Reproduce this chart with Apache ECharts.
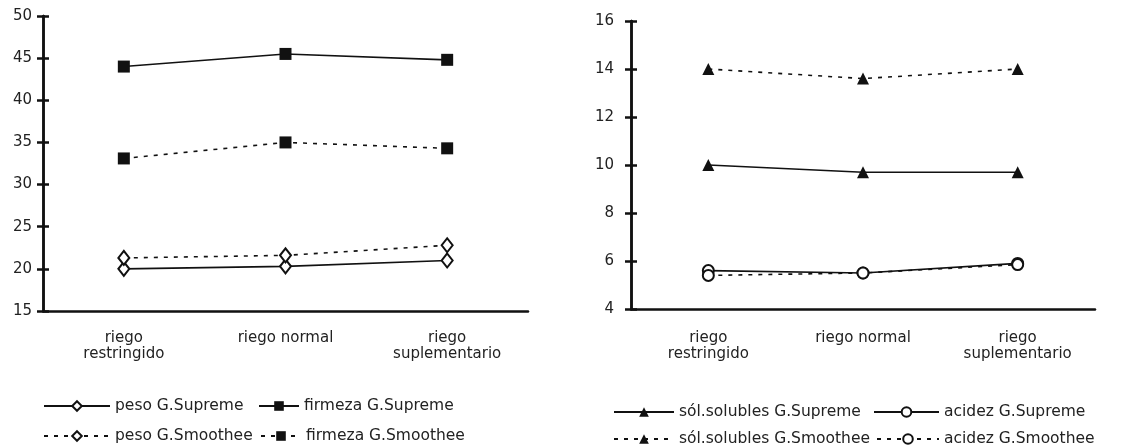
<!DOCTYPE html>
<html>
<head>
<meta charset="utf-8">
<script src="https://cdn.jsdelivr.net/npm/echarts@6/dist/echarts.min.js"></script>
<style>
html,body{margin:0;padding:0;background:#fff;}
#chart{width:1128px;height:447px;}
</style>
</head>
<body>
<div id="chart"></div>
<script>
// ---- data ----
var categories = ['riego\nrestringido', 'riego normal', 'riego\nsuplementario'];
var pesoSupreme = [20.0, 20.3, 21.0];
var pesoSmoothee = [21.3, 21.6, 22.8];
var firmezaSupreme = [44.0, 45.5, 44.8];
var firmezaSmoothee = [33.1, 35.0, 34.3];
var solSupreme = [10.0, 9.7, 9.7];
var solSmoothee = [14.0, 13.6, 14.0];
var acidezSupreme = [5.6, 5.5, 5.9];
var acidezSmoothee = [5.4, 5.5, 5.85];
var leftAxis = {min: 15, max: 50, interval: 5};
var rightAxis = {min: 4, max: 16, interval: 2};
var names = {
  pesoSup: 'peso G.Supreme', pesoSmo: 'peso G.Smoothee',
  firSup: 'firmeza G.Supreme', firSmo: 'firmeza G.Smoothee',
  solSup: 'sól.solubles G.Supreme', solSmo: 'sól.solubles G.Smoothee',
  aciSup: 'acidez G.Supreme', aciSmo: 'acidez G.Smoothee'
};

// ---- styles ----
var INK = '#111';
var FONT = 'DejaVu Sans';
var solid = {color: INK, width: 1.6, type: 'solid'};
var dotted = {color: INK, width: 1.6, type: [4, 6]};
var filled = {color: INK};
var hollow = {color: '#fff', borderColor: INK, borderWidth: 2};

function yAxes(gridIndex, ax, labelMargin) {
  var base = {
    type: 'value', gridIndex: gridIndex, position: 'left', offset: 0,
    min: ax.min, max: ax.max, interval: ax.interval,
    splitLine: {show: false},
    axisLine: {show: true, lineStyle: {color: INK, width: 2.5}}
  };
  var a = Object.assign({}, base, {
    axisTick: {show: true, inside: false, length: 6, lineStyle: {color: INK, width: 2.5}},
    axisLabel: {show: true, color: '#222', fontFamily: FONT, fontSize: 15, margin: labelMargin}
  });
  var b = Object.assign({}, base, {
    axisTick: {show: true, inside: true, length: 6, lineStyle: {color: INK, width: 2.5}},
    axisLabel: {show: false}
  });
  return [a, b];
}
function xAxis(gridIndex, margin) {
  return {
    type: 'category', gridIndex: gridIndex, data: categories, boundaryGap: true,
    axisLine: {show: true, lineStyle: {color: INK, width: 2.5}},
    axisTick: {show: false},
    axisLabel: {interval: 0, color: '#222', fontFamily: FONT, fontSize: 15, lineHeight: 16, margin: margin},
    splitLine: {show: false}
  };
}
function series(name, data, xi, yi, line, symbol, size, item) {
  return {
    name: name, type: 'line', data: data, xAxisIndex: xi, yAxisIndex: yi,
    symbol: symbol, symbolSize: size, showAllSymbol: true,
    lineStyle: line, itemStyle: item, z: 3
  };
}
function legend(name, left, top, w) {
  return {
    data: [name], left: left, top: top, itemWidth: w, itemHeight: 12, padding: 0,
    selectedMode: false,
    textStyle: {color: '#222', fontFamily: FONT, fontSize: 15.5}
  };
}

var chart = echarts.init(document.getElementById('chart'), null, {renderer: 'canvas'});
chart.setOption({
  animation: false,
  backgroundColor: '#fff',
  grid: [
    {left: 43, right: 600, top: 16, bottom: 136},
    {left: 631, right: 33, top: 21, bottom: 138}
  ],
  xAxis: [xAxis(0, 19), xAxis(1, 21)],
  yAxis: yAxes(0, leftAxis, 11).concat(yAxes(1, rightAxis, 17)),
  legend: [
    legend(names.pesoSup, 43, 398, 66),
    legend(names.firSup, 258, 398, 40),
    legend(names.pesoSmo, 43, 428, 66),
    legend(names.firSmo, 260, 428, 40),
    legend(names.solSup, 613, 404, 60),
    legend(names.aciSup, 873, 404, 65),
    legend(names.solSmo, 613, 431, 60),
    legend(names.aciSmo, 876, 431, 62)
  ],
  series: [
    series(names.pesoSup, pesoSupreme, 0, 0, solid, 'diamond', [11, 14], hollow),
    series(names.pesoSmo, pesoSmoothee, 0, 0, dotted, 'diamond', [11, 14], hollow),
    series(names.firSup, firmezaSupreme, 0, 0, solid, 'rect', 12, filled),
    series(names.firSmo, firmezaSmoothee, 0, 0, dotted, 'rect', 12, filled),
    series(names.solSup, solSupreme, 1, 2, solid, 'triangle', 12, filled),
    series(names.solSmo, solSmoothee, 1, 2, dotted, 'triangle', 12, filled),
    series(names.aciSup, acidezSupreme, 1, 2, solid, 'circle', 11, hollow),
    series(names.aciSmo, acidezSmoothee, 1, 2, dotted, 'circle', 11, hollow)
  ]
});
</script>
</body>
</html>
